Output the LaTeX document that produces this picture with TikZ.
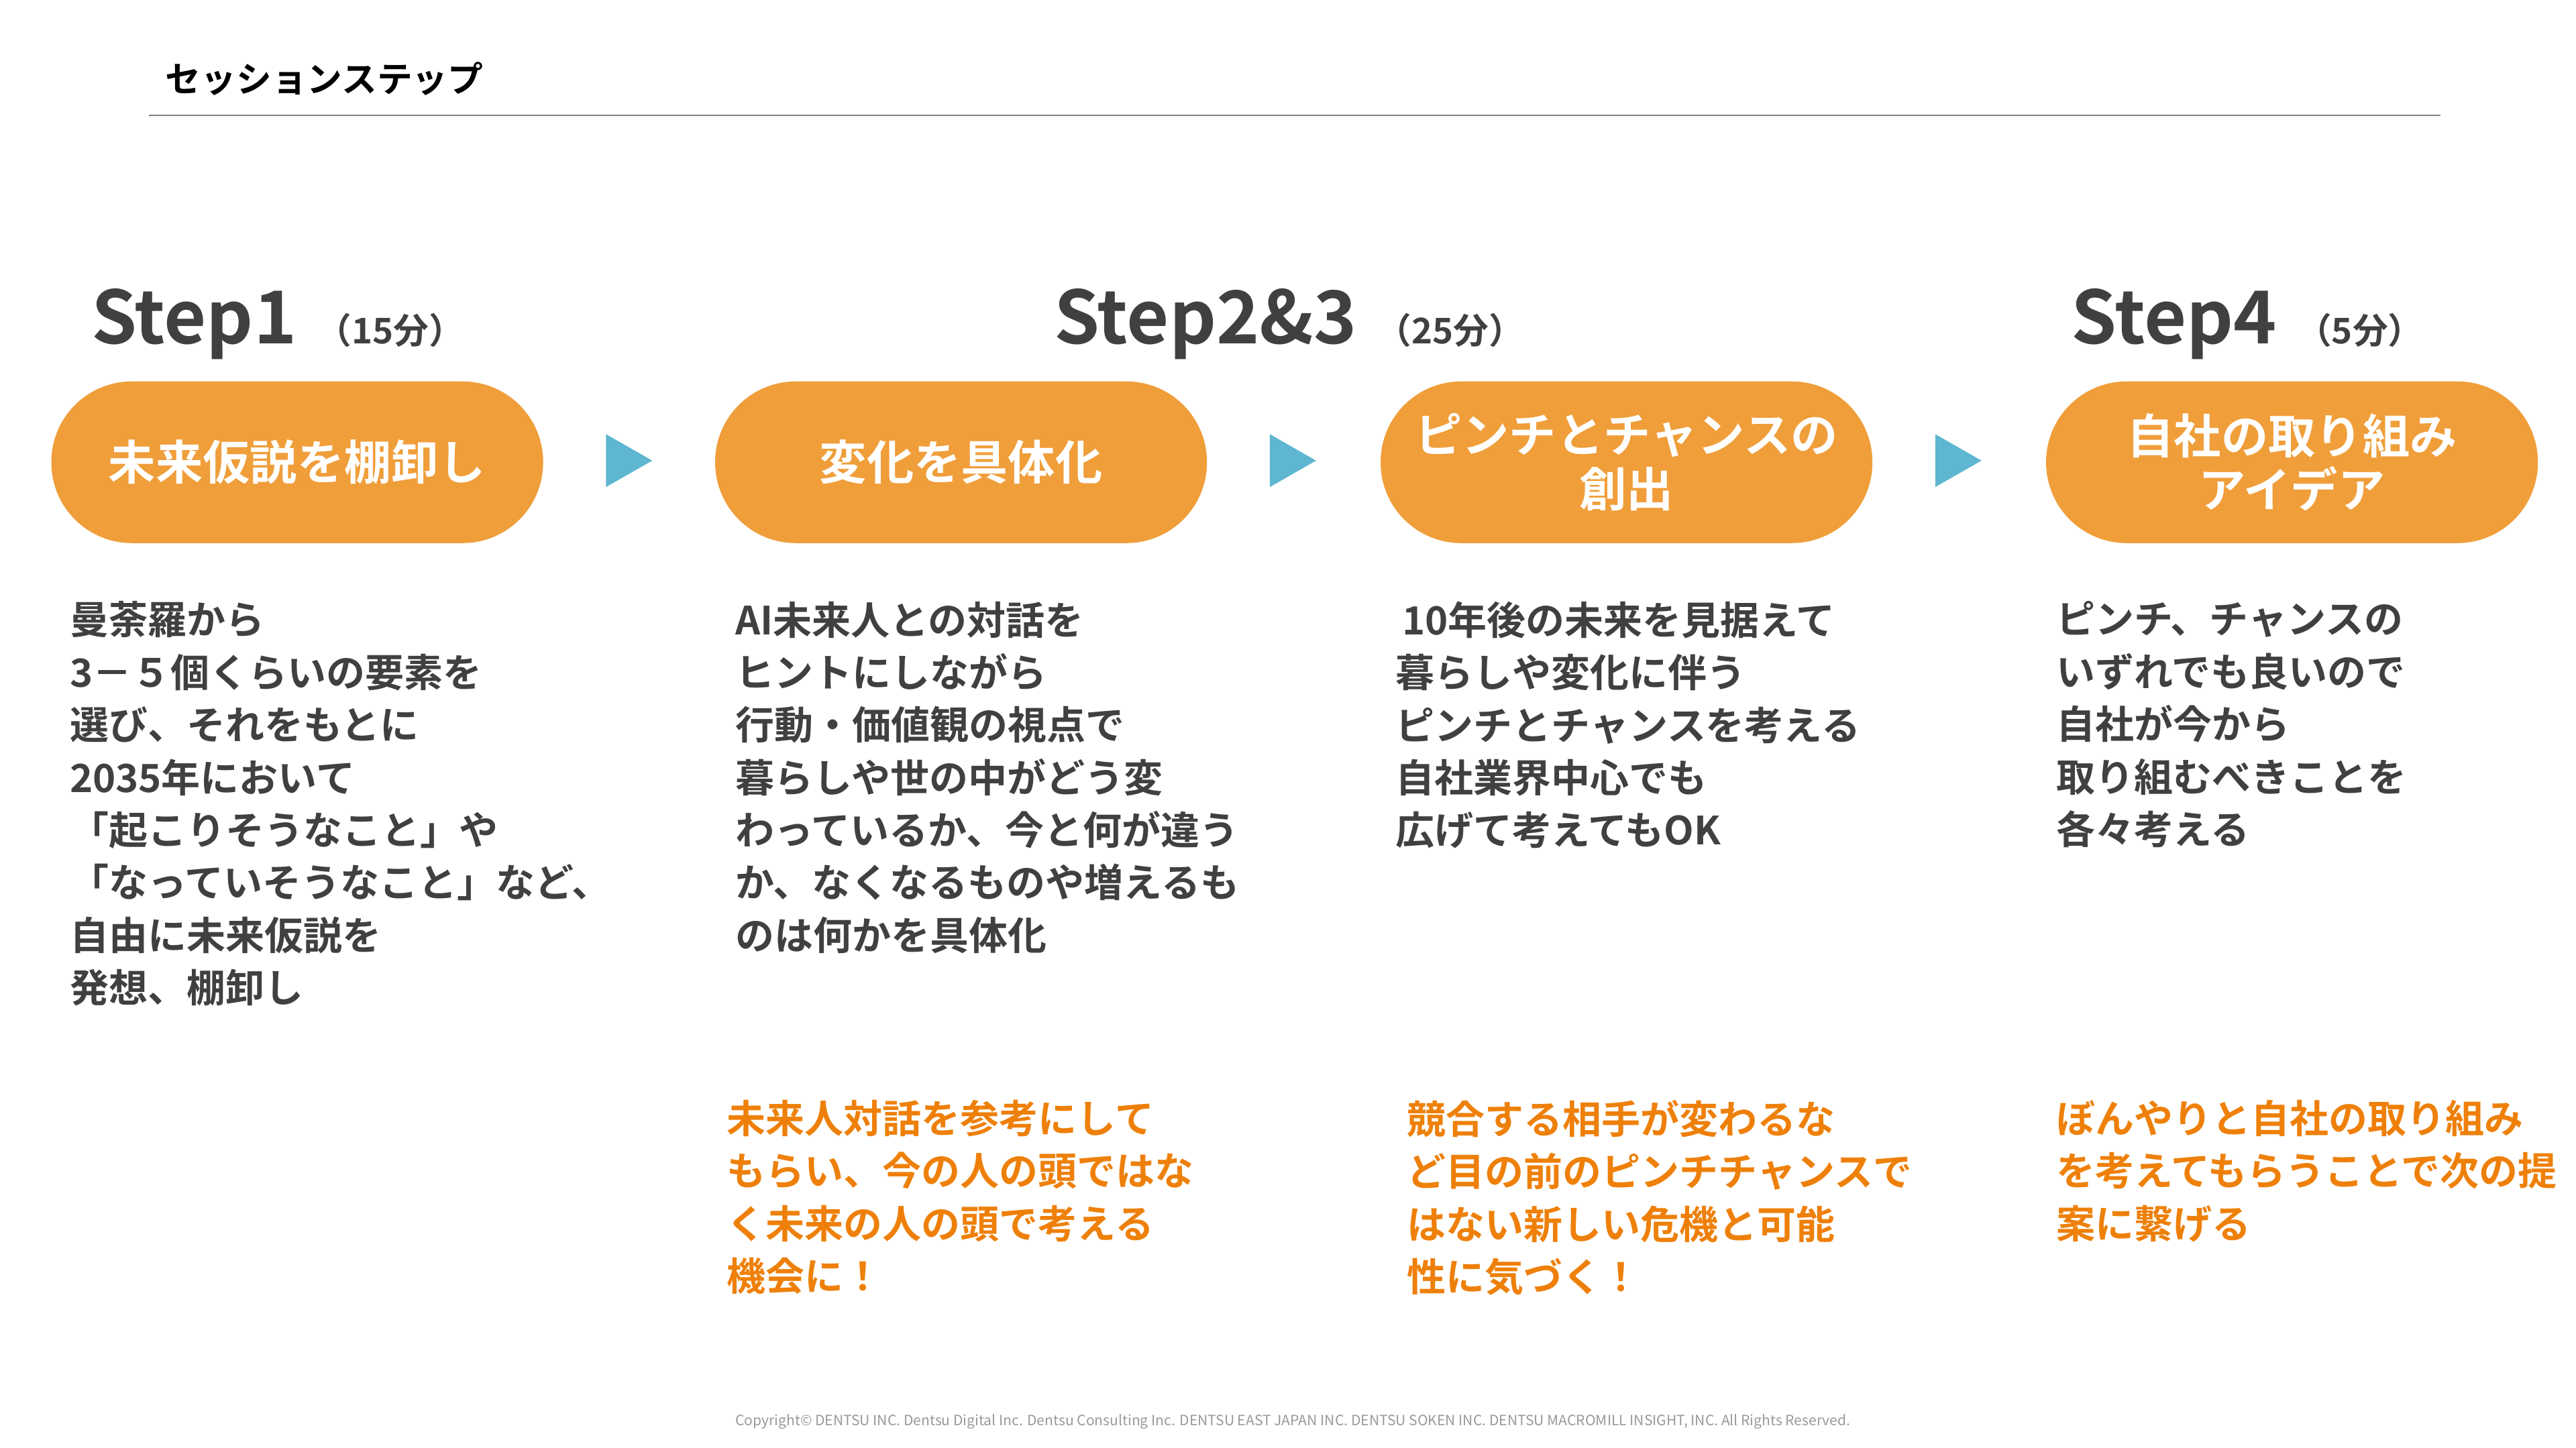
\documentclass[tikz,border=0pt]{standalone}
\usepackage{fontspec}
\setmainfont{Noto Sans CJK JP}[BoldFont={* Bold}]
\usetikzlibrary{positioning}
\definecolor{pill}{RGB}{240,158,58}
\definecolor{tri}{RGB}{94,182,208}
\definecolor{body}{RGB}{64,64,64}
\definecolor{note}{RGB}{238,128,10}

\begin{document}
\begin{tikzpicture}
    [x=0.024615cm, y=-0.024615cm,
    pillbox/.style={fill=pill, rounded corners=1.2cm, minimum width=7.33cm, minimum height=2.41cm, text=white, font=\bfseries\fontsize{20}{23}\selectfont, align=center},
    steplabel/.style={anchor=base west, text=body, font=\bfseries\fontsize{31}{34}\selectfont, inner sep=0pt},
    stepmin/.style={anchor=base west, text=body, font=\bfseries\fontsize{15}{18}\selectfont, inner sep=0pt},
    bodytext/.style={anchor=north west, text=body, align=left, inner sep=0pt, font=\bfseries\fontsize{16.5}{22.3}\selectfont},
    notetext/.style={anchor=north west, text=note, align=left, inner sep=0pt, font=\bfseries\fontsize{16.5}{22.3}\selectfont}]
     \useasboundingbox (0,0) rectangle (1560,877);
     \node[anchor=base west, inner sep=0pt, font=\bfseries\fontsize{15}{18}\selectfont] (title) at (100,56) {セッションステップ};
     \coordinate (rl) at (90,70);
     \coordinate (rr) at (1478,70);
     \draw[gray, line width=0.6pt] (rl) -- (rr);
     % step headings
     \node[steplabel] (s1) at (55,208) {Step1};
     \node[stepmin, right=8pt of s1.base east, anchor=base west] (m1) {（15分）};
     \node[steplabel] (s2) at (638,208) {Step2\&3};
     \node[stepmin, right=8pt of s2.base east, anchor=base west] (m2) {（25分）};
     \node[steplabel] (s4) at (1254,208) {Step4};
     \node[stepmin, right=8pt of s4.base east, anchor=base west] (m4) {（5分）};
     % pills
     \node[pillbox] (p1) at (180,280) {未来仮説を棚卸し};
     \node[pillbox] (p2) at (582,280) {変化を具体化};
     \node[pillbox] (p3) at (985,280) {ピンチとチャンスの\\創出};
     \node[pillbox] (p4) at (1388,280) {自社の取り組み\\アイデア};
     % arrows
     \foreach \cx in {381,783,1186}
       \fill[tri] (\cx-14,263) -- (\cx+14,279) -- (\cx-14,295) -- cycle;
     % descriptions
     \node[bodytext] (b1) at (42,364) {曼荼羅から\\3－５個くらいの要素を\\選び、それをもとに\\2035年において\\「起こりそうなこと」や\\「なっていそうなこと」など、\\自由に未来仮説を\\発想、棚卸し};
     \node[bodytext] (b2) at (445,364) {AI未来人との対話を\\ヒントにしながら\\行動・価値観の視点で\\暮らしや世の中がどう変\\わっているか、今と何が違う\\か、なくなるものや増えるも\\のは何かを具体化};
     \node[bodytext] (b3) at (845,364) {\,10年後の未来を見据えて\\暮らしや変化に伴う\\ピンチとチャンスを考える\\自社業界中心でも\\広げて考えてもOK};
     \node[bodytext] (b4) at (1245,364) {ピンチ、チャンスの\\いずれでも良いので\\自社が今から\\取り組むべきことを\\各々考える};
     % notes
     \node[notetext] (n2) at (440,666) {未来人対話を参考にして\\もらい、今の人の頭ではな\\く未来の人の頭で考える\\機会に！};
     \node[notetext] (n3) at (852,666) {競合する相手が変わるな\\ど目の前のピンチチャンスで\\はない新しい危機と可能\\性に気づく！};
     \node[notetext] (n4) at (1245,666) {ぼんやりと自社の取り組み\\を考えてもらうことで次の提\\案に繋げる};
     \node[text=gray!80, font=\fontsize{6}{7}\selectfont, inner sep=0pt] (copy) at (783,861) {Copyright© DENTSU INC. Dentsu Digital Inc. Dentsu Consulting Inc. DENTSU EAST JAPAN INC. DENTSU SOKEN INC. DENTSU MACROMILL INSIGHT, INC. All Rights Reserved.};
\end{tikzpicture}
\end{document}
